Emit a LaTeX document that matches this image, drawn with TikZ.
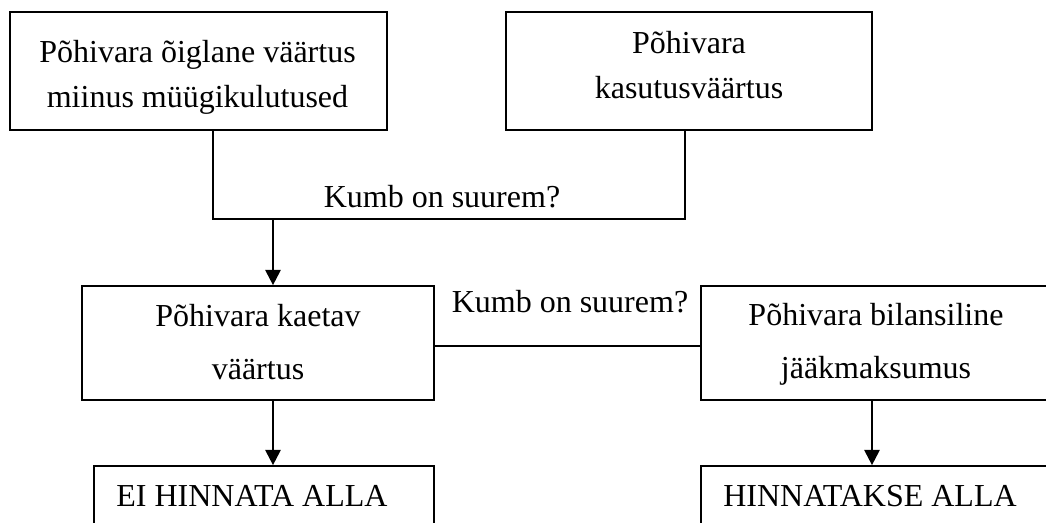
\documentclass[tikz,border=0pt]{standalone}
\usepackage{fontspec}
\setmainfont{Liberation Serif}
\usetikzlibrary{arrows.meta}
\begin{document}
\begin{tikzpicture}[x=0.75pt,y=-0.75pt,
  box/.style={draw=black,line width=1.3pt,rectangle,inner sep=0pt},
  txt/.style={align=center,inner sep=0pt,anchor=base,font=\fontsize{24}{33.75}\selectfont},
  txtb/.style={align=center,inner sep=0pt,anchor=base,font=\fontsize{24}{39.5}\selectfont},
  conn/.style={line width=1.3pt},
  arr/.style={line width=1.6pt,-{Triangle[width=11.5pt,length=11.5pt]}},
  thin/.style={line width=1pt}]
\clip (0,0) rectangle (1046,522);
\useasboundingbox (0,0) rectangle (1046,522);
\fill[white] (0,0) rectangle (1046,522);
% boxes
\node[box,minimum width=282.75pt,minimum height=88.5pt] (A) at (198.5,71) {};
\node[box,minimum width=274.5pt,minimum height=88.5pt] (B) at (689,71) {};
\node[box,minimum width=264pt,minimum height=85.5pt] (C) at (258,343) {};
\node[box,minimum width=261.75pt,minimum height=85.5pt] (D) at (875.5,343) {};
\node[box,minimum width=261.75pt,minimum height=75pt] (E) at (875.5,516) {};
\node[box,minimum width=255pt,minimum height=75pt] (F) at (264,516) {};
% texts (base anchor = last line baseline)
\node[txt] (tA) at (197.5,107) {Põhivara õiglane väärtus\\miinus müügikulutused};
\node[txt] (tB) at (689,98) {Põhivara\\kasutusväärtus};
\node[txtb] (tC) at (258,379) {Põhivara kaetav\\väärtus};
\node[txtb] (tD) at (876,378) {Põhivara bilansiline\\jääkmaksumus};
\node[txt] (tF) at (252,506) {EI HINNATA ALLA};
\node[txt] (tE) at (870,506) {HINNATAKSE ALLA};
\node[txt] (q1) at (442,207) {Kumb on suurem?};
\node[txt] (q2) at (570,312) {Kumb on suurem?};
% connectors
\coordinate (k1) at (213,219);
\coordinate (k2) at (685,219);
\coordinate (k3) at (273,219);
\coordinate (k4) at (872,400);
\coordinate (m1) at (434,346);
\draw[conn] (A.south -| k1) -- (k1) -- (k2) -- (B.south -| k2);
\draw[arr] (k3) -- (C.north -| k3);
\draw[thin] (m1) -- (m1 -| D.west);
\draw[arr] (C.south -| k3) -- (F.north -| k3);
\draw[arr] (D.south -| k4) -- (E.north -| k4);
\end{tikzpicture}
\end{document}
